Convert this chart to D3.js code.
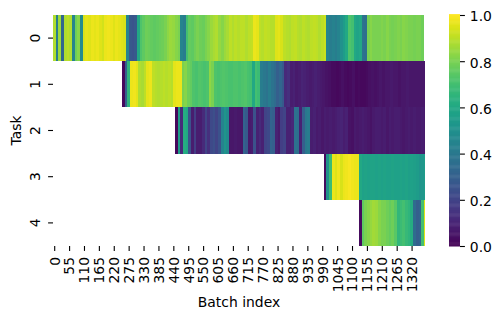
<!DOCTYPE html>
<html>
<head>
<meta charset="utf-8">
<script src="https://cdn.jsdelivr.net/npm/d3@7"></script>
<style>
  html, body { margin: 0; padding: 0; background: #fff; }
  svg { display: block; }
  text { font-family: "DejaVu Sans", sans-serif; fill: #000; }
</style>
</head>
<body>
<div id="chart"></div>
<script>
// values, one per 10 batches, each task starts at its own batch
var tasks = [0, 1, 2, 3, 4];
var taskStart = [0, 255, 450, 1000, 1130];
var batchStep = 10;
var batchCount = 1374;
var xTicks = d3.range(0, 1321, 55);
var colorTicks = [0, 0.2, 0.4, 0.6, 0.8, 1];

var task0 = [.88,.42,.85,.33,.88,.9,.88,.45,.78,.82,.48,
  .94,.96,.95,.97,.96,.97,.95,.93,.97,.98,.97,.95,.97,.96,.95,.94,
  .45,.27,.26,.28,.6,
  .72,.75,.78,.77,.76,.75,.76,.77,.78,.8,.83,.85,.84,.82,.8,
  .45,.42,
  .7,.76,.75,.78,.8,.78,.77,.8,.82,.85,.87,.88,.84,.82,.85,.87,
  .9,.88,.9,.89,.9,.9,.88,.9,.91,
  .97,.96,
  .9,.89,.91,.9,.89,.89,
  .95,.96,.94,
  .9,.89,.88,.9,.91,.89,.88,.9,.89,.88,.9,.91,.9,.88,.9,.92,
  .45,.42,.44,.42,.45,.5,.55,.6,
  .72,.7,.6,.58,.6,.38,.36,
  .8,.82,.8,.8,.8,.81,.8,.82,.8,.79,.8,.81,.8,.82,.81,.8,.8,.79,.8,.8,.78];
var task1 = [.02,.3,.65,.97,.98,.96,.88,.87,.9,.96,.97,
  .9,.89,.88,.89,.9,.89,.9,.89,
  .96,.97,.97,
  .8,.82,.78,.76,
  .72,.71,.73,.72,.71,.72,
  .83,.8,
  .72,.71,.72,.73,.72,.71,.71,.72,.72,.71,.72,.73,.71,.7,
  .6,.7,.68,
  .42,.4,.38,.42,
  .38,.35,.3,.33,.28,
  .12,.14,
  .08,.09,.07,.08,.1,.09,.08,.07,.08,.09,.08,.07,.06,.05,.04,.03,.03,.02,.03,.04,.03,.02,.03,.04,
  .02,.03,.02,.02,.03,.04,.05,.04,.05,.06,.05,.06,.06,.07,.06,.06,.05,.06,.06,.07,.06,.06,.06,.06,.06,.06];
var task2 = [.02,.55,.12,.62,.6,.25,.08,.18,.08,.08,
  .12,.2,.14,.22,.24,.2,.25,
  .45,.52,.48,
  .06,.06,.07,.06,.06,
  .32,.28,.07,.08,.25,.09,.12,.09,.2,.22,
  .32,.3,.09,.07,.18,.2,.09,.09,.11,.38,.36,.09,.3,.4,.42,
  .08,.09,.07,.08,.06,.08,.07,.08,.07,.08,.09,.1,.08,.09,.05,.04,.07,.06,.07,.08,.07,.06,
  .05,.07,.08,.08,.07,.08,.06,.08,.07,.08,.08,.07,.06,.07,.08,.07,.08,.07,.07,.08,.07];
var task3 = [.03,.5,.68,.97,.95,.98,.94,.97,.98,.99,.98,.97,.97,.6,
  .57,.58,.57,.58,.58,.57,.58,.57,.58,.57,.57,.58,.57,.57,.58,.57,.58,.56,.57,.56,.55,.52,.53,.55];
var task4 = [.03,.75,.8,.82,.84,.86,.85,.82,.8,.8,.78,.76,.78,.74,
  .66,.68,.7,.67,.65,.62,.35,.3,.32,.7,.95];
var taskValues = [task0, task1, task2, task3, task4];

var Width = 501, Height = 321;
var plot = {left: 53, right: 425, top: 15, bottom: 246};
var cbar = {left: 449, right: 460, top: 15, bottom: 246};
var fontSize = 13.9;
var tickSize = 4.9;

var x = d3.scaleLinear().domain([0, batchCount]).range([plot.left, plot.right]);
var y = d3.scaleBand().domain(tasks).range([plot.top, plot.bottom]);
var color = d3.scaleSequential(d3.interpolateViridis).domain([0, 1]);
var cbarY = d3.scaleLinear().domain([0, 1]).range([cbar.bottom, cbar.top]);

var svg = d3.select("#chart")
  .append("svg")
  .attr("width", Width)
  .attr("height", Height);

// heatmap rows
tasks.forEach(function(t) {
  var cells = taskValues[t].map(function(v, i) {
    return {start: taskStart[t] + i * batchStep, value: v};
  });
  svg.append("g")
    .selectAll("rect")
    .data(cells)
    .enter()
    .append("rect")
    .attr("x", function(d) { return x(d.start); })
    .attr("y", y(t))
    .attr("width", function(d) { return x(Math.min(d.start + batchStep, batchCount)) - x(d.start); })
    .attr("height", y.bandwidth())
    .attr("shape-rendering", "crispEdges")
    .attr("fill", function(d) { return color(d.value); });
});

function styleAxis(g) {
  g.select(".domain").remove();
  g.selectAll(".tick line").attr("stroke", "#000").attr("stroke-width", 1.1);
  g.selectAll(".tick text").style("font-size", fontSize + "px").style("font-family", '"DejaVu Sans", sans-serif');
}

// x axis, labels rotated
var xAxis = d3.axisBottom(x).tickValues(xTicks).tickFormat(d3.format("d")).tickSize(tickSize).tickPadding(4.9);
var xG = svg.append("g")
  .attr("transform", "translate(1.2," + plot.bottom + ")")
  .call(xAxis)
  .call(styleAxis);
xG.selectAll(".tick text")
  .attr("transform", "rotate(-90)")
  .attr("text-anchor", "end")
  .attr("dy", "0.35em")
  .attr("x", -11)
  .attr("y", 0);

// y axis, labels rotated
var yAxis = d3.axisLeft(y).tickSize(tickSize).tickPadding(4.9);
var yG = svg.append("g")
  .attr("transform", "translate(" + plot.left + ",0)")
  .call(yAxis)
  .call(styleAxis);
yG.selectAll(".tick text")
  .attr("transform", "rotate(-90)")
  .attr("text-anchor", "middle")
  .attr("dy", 0)
  .attr("x", 0)
  .attr("y", -12.8);

// colour bar
var cbarSteps = d3.range(0, 256).map(function(i) { return i / 255; });
svg.append("g")
  .selectAll("rect")
  .data(cbarSteps)
  .enter()
  .append("rect")
  .attr("x", cbar.left)
  .attr("width", cbar.right - cbar.left)
  .attr("y", function(d) { return cbarY(d) - (cbar.bottom - cbar.top) / 256; })
  .attr("height", (cbar.bottom - cbar.top) / 256 + 0.5)
  .attr("fill", function(d) { return color(d); });

var cbarAxis = d3.axisRight(cbarY).tickValues(colorTicks).tickFormat(d3.format(".1f")).tickSize(tickSize).tickPadding(4.9);
var cbarG = svg.append("g")
  .attr("transform", "translate(" + cbar.right + ",0)")
  .call(cbarAxis)
  .call(styleAxis);
cbarG.selectAll(".tick text").attr("dy", "0.42em");

// axis titles
svg.append("text")
  .attr("x", (plot.left + plot.right) / 2)
  .attr("y", 307)
  .attr("text-anchor", "middle")
  .style("font-size", fontSize + "px")
  .text("Batch index");

svg.append("text")
  .attr("transform", "translate(20.5," + (plot.top + plot.bottom) / 2 + ") rotate(-90)")
  .attr("text-anchor", "middle")
  .style("font-size", fontSize + "px")
  .text("Task");
</script>
</body>
</html>
